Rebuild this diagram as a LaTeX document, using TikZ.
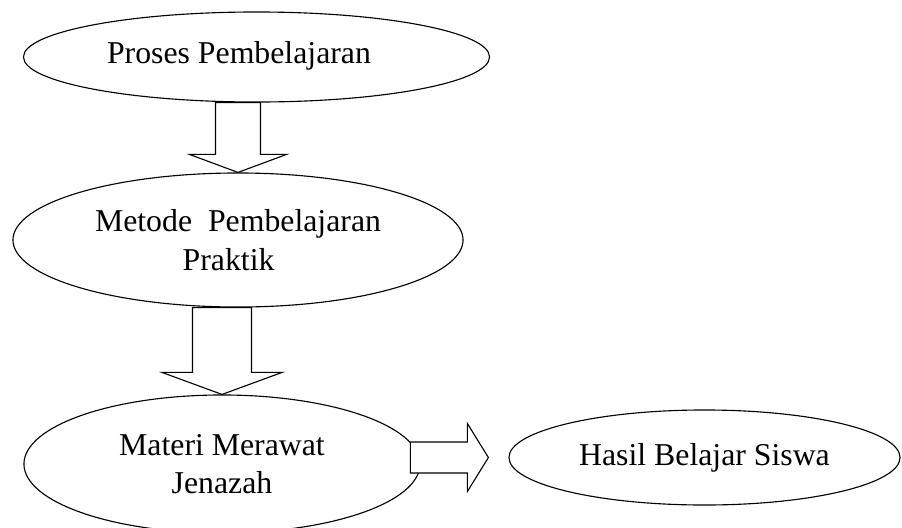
\documentclass[tikz,border=0pt]{standalone}
\usepackage{fontspec}
\setmainfont{Liberation Serif}
\usetikzlibrary{shapes.geometric}
\usetikzlibrary{calc}

% hollow block arrows: #1 start, #2 tip, #3 half shaft, #4 half head, #5 head length
\newcommand{\blockdown}[5]{%
	\draw[blockarrow] ($(#1)+(-#3,0)$) -- ($(#2)+(-#3,-#5)$) -- ($(#2)+(-#4,-#5)$) -- (#2)
	-- ($(#2)+(#4,-#5)$) -- ($(#2)+(#3,-#5)$) -- ($(#1)+(#3,0)$) -- cycle;}
\newcommand{\blockright}[5]{%
	\draw[blockarrow] ($(#1)+(0,-#3)$) -- ($(#2)+(-#5,-#3)$) -- ($(#2)+(-#5,-#4)$) -- (#2)
	-- ($(#2)+(-#5,#4)$) -- ($(#2)+(-#5,#3)$) -- ($(#1)+(0,#3)$) -- cycle;}

\begin{document}
\begin{tikzpicture}[x=0.025cm,y=-0.025cm,
	oval/.style={ellipse,draw,line width=0.8pt,inner sep=0pt,align=center},
	blockarrow/.style={draw,fill=white,line width=0.8pt,line join=miter},
	every node/.style={font=\fontsize{22.6}{27.2}\selectfont}]
	
	\useasboundingbox (0,0) rectangle (902,527);
	\clip (0,0) rectangle (902,527);
	
	\node [oval,minimum width=11.65cm,minimum height=2.25cm] (proses) at (256.5,57) {};
	\node [anchor=base] (prosesText) at (239,63) {Proses Pembelajaran};
	
	\node [oval,minimum width=11.25cm,minimum height=3.35cm] (metode) at (238,240) {Metode\ \ Pembelajaran\\Praktik\hspace*{0.47cm}};
	
	\node [oval,minimum width=9.9cm,minimum height=3.45cm] (materi) at (222,464) {Materi Merawat\\Jenazah};
	
	\node [oval,minimum width=9.775cm,minimum height=2.375cm] (hasil) at (704.5,457.5) {Hasil Belajar Siswa};
	
	%arrows
	\coordinate [] (a1top) at (metode.north |- proses.south);
	\blockdown{a1top}{metode.north}{22.5}{48.5}{18}
	
	\coordinate [] (a2top) at (materi.north |- metode.south);
	\blockdown{a2top}{materi.north}{29.5}{60}{22}
	
	\coordinate [] (a3start) at ($(hasil.west)+(-98,0)$);
	\coordinate [] (a3tip) at ($(hasil.west)+(-20,0)$);
	\blockright{a3start}{a3tip}{15.5}{34}{21}
	
\end{tikzpicture}
\end{document}
